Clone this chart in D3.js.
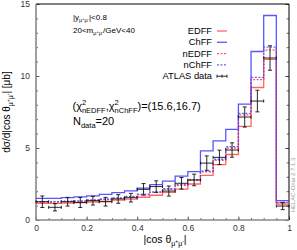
<!DOCTYPE html>
<html>
<head>
<meta charset="utf-8">
<style>
  body { margin: 0; background: #fff; }
  svg { display: block; font-family: "Liberation Sans", Arial, sans-serif; }
</style>
</head>
<body>
<svg width="297" height="250"></svg>
<script src="https://d3js.org/d3.v7.min.js"></script>
<script>
// bin edges in |cos theta|
const binEdges = [0, 0.05, 0.1, 0.15, 0.2, 0.25, 0.3, 0.35, 0.4, 0.45, 0.5,
                  0.55, 0.6, 0.65, 0.7, 0.75, 0.8, 0.85, 0.9, 0.95, 1];

// theory predictions
const edff  = [1.15, 1.15, 1.18, 1.20, 1.25, 1.30, 1.38, 1.45, 1.58, 1.72, 1.92, 2.15, 2.50, 3.10, 3.85, 4.55, 6.50, 9.20, 11.15, 1.10];
const chff  = [1.50, 1.50, 1.55, 1.60, 1.68, 1.78, 1.90, 2.02, 2.22, 2.45, 2.70, 3.05, 3.36, 4.80, 5.50, 6.30, 8.05, 11.70, 14.20, 1.35];
const nedff = [1.25, 1.25, 1.28, 1.30, 1.36, 1.42, 1.50, 1.60, 1.75, 1.92, 2.12, 2.40, 2.75, 3.35, 4.15, 5.00, 7.30, 9.75, 11.80, 1.18];
const nchff = [1.28, 1.28, 1.31, 1.33, 1.39, 1.46, 1.54, 1.64, 1.79, 1.96, 2.17, 2.45, 2.80, 3.40, 4.22, 5.10, 7.40, 9.90, 12.00, 1.22];

// ATLAS data + errors
const dataVal = [1.27, 0.88, 1.27, 1.22, 1.34, 1.27, 1.46, 1.55, 2.13, 2.32, 2.01, 2.55, 2.78, 3.95, 4.35, 4.86, 7.15, 8.26, 11.25, 0.97];
const dataErr = [0.40, 0.25, 0.30, 0.35, 0.30, 0.30, 0.30, 0.30, 0.40, 0.40, 0.35, 0.40, 0.40, 0.50, 0.50, 0.50, 0.70, 0.75, 0.85, 0.25];

const xTicks = [0, 0.2, 0.4, 0.6, 0.8, 1];
const yTicks = [0, 5, 10, 15];

let svg = d3.select("svg");
let mLeft = 36, mRight = 289, mTop = 4, mBottom = 220;

let x = d3.scaleLinear().domain([0, 1]).range([mLeft, mRight]);
let y = d3.scaleLinear().domain([0, 15]).range([mBottom, mTop]);

// axes / ticks
let minorY = d3.range(0, 16, 1);
let minorX = d3.range(0, 1.0001, 0.05);

svg.append("g").attr("transform", `translate(${mLeft},0)`)
    .call(d3.axisLeft(y).tickValues(minorY).tickSize(-2).tickFormat(""))
    .call(g => g.select(".domain").remove());
svg.append("g").attr("transform", `translate(${mLeft},0)`)
    .call(d3.axisLeft(y).tickValues(yTicks).tickSize(-3.5).tickPadding(6).tickFormat(d3.format("d")))
    .call(g => g.select(".domain").remove())
    .call(g => g.selectAll("text").attr("font-size", 8.5).attr("fill", "#333").attr("font-family", "Liberation Sans, Arial, sans-serif"));

svg.append("g").attr("transform", `translate(${mRight},0)`)
    .call(d3.axisRight(y).tickValues(minorY).tickSize(-2.5).tickFormat(""))
    .call(g => g.select(".domain").remove());
svg.append("g").attr("transform", `translate(${mRight},0)`)
    .call(d3.axisRight(y).tickValues(yTicks).tickSize(-4).tickFormat(""))
    .call(g => g.select(".domain").remove());

svg.append("g").attr("transform", `translate(0,${mBottom})`)
    .call(d3.axisBottom(x).tickValues(minorX).tickSize(-2).tickFormat(""))
    .call(g => g.select(".domain").remove());
svg.append("g").attr("transform", `translate(0,${mBottom})`)
    .call(d3.axisBottom(x).tickValues(xTicks).tickSize(-3.5).tickPadding(5).tickFormat(d => d3.format("")(d)))
    .call(g => g.select(".domain").remove())
    .call(g => g.selectAll("text").attr("font-size", 8.5).attr("fill", "#333").attr("font-family", "Liberation Sans, Arial, sans-serif"));

svg.selectAll(".tick line").attr("stroke", "#444").attr("stroke-width", 0.8);

// frame
svg.append("line").attr("x1", mLeft).attr("x2", mRight).attr("y1", mTop).attr("y2", mTop)
    .attr("stroke", "#000").attr("stroke-width", 1);
svg.append("line").attr("x1", mRight).attr("x2", mRight).attr("y1", mTop).attr("y2", mBottom)
    .attr("stroke", "#000").attr("stroke-width", 1);
svg.append("line").attr("x1", mLeft).attr("x2", mLeft).attr("y1", mTop).attr("y2", mBottom + 0.7)
    .attr("stroke", "#888").attr("stroke-width", 1.6);
svg.append("line").attr("x1", mLeft).attr("x2", mRight).attr("y1", mBottom).attr("y2", mBottom)
    .attr("stroke", "#888").attr("stroke-width", 1.6);

// histograms
let step = d3.line().x(d => x(d[0])).y(d => y(d[1])).curve(d3.curveStepAfter);

function histPts(vals) {
    let pts = vals.map((v, i) => [binEdges[i], v]);
    pts.push([binEdges[binEdges.length - 1], vals[vals.length - 1]]);
    return pts;
}

let series = [
    { name: "EDFF",  vals: edff,  color: "#ff4a4a", dash: null },
    { name: "ChFF",  vals: chff,  color: "#3a3aff", dash: null },
    { name: "nEDFF", vals: nedff, color: "#ff3a3a", dash: "2,1.5" },
    { name: "nChFF", vals: nchff, color: "#4a4aff", dash: "2,1.5" }
];

series.forEach(s => {
    svg.append("path")
        .attr("d", step(histPts(s.vals)))
        .attr("fill", "none")
        .attr("stroke", s.color)
        .attr("stroke-opacity", 0.85)
        .attr("stroke-width", 1.3)
        .attr("stroke-dasharray", s.dash);
});

// data points
let dg = svg.append("g").attr("stroke", "#111").attr("stroke-width", 0.9);
dataVal.forEach((v, i) => {
    let x0 = x(binEdges[i]), x1 = x(binEdges[i + 1]), xc = (x0 + x1) / 2;
    let yc = y(v), ylo = y(v - dataErr[i]), yhi = y(v + dataErr[i]);
    dg.append("line").attr("x1", x0).attr("x2", x1).attr("y1", yc).attr("y2", yc);
    dg.append("line").attr("x1", x0).attr("x2", x0).attr("y1", yc - 1.5).attr("y2", yc + 1.5);
    dg.append("line").attr("x1", x1).attr("x2", x1).attr("y1", yc - 1.5).attr("y2", yc + 1.5);
    dg.append("line").attr("x1", xc).attr("x2", xc).attr("y1", ylo).attr("y2", yhi);
    dg.append("line").attr("x1", xc - 2).attr("x2", xc + 2).attr("y1", ylo).attr("y2", ylo);
    dg.append("line").attr("x1", xc - 2).attr("x2", xc + 2).attr("y1", yhi).attr("y2", yhi);
});

// rich text helper: parts {t, s, b (baseline shift up), hold (stack with next)}
function rich(g, parts, anchor) {
    let cx = 0, pend = 0;
    parts.forEach(p => {
        let t = g.append("text").attr("x", cx).attr("y", -(p.b || 0))
            .attr("font-size", p.s).attr("fill", "#000").text(p.t);
        let w = t.node().getComputedTextLength();
        if (p.hold) { pend = w; }
        else { cx += Math.max(w, pend); pend = 0; }
    });
    if (anchor === "middle") {
        g.selectAll("text").attr("x", function () { return +this.getAttribute("x") - cx / 2; });
    } else if (anchor === "end") {
        g.selectAll("text").attr("x", function () { return +this.getAttribute("x") - cx; });
    }
    return cx;
}

function mumu(s, b) {
    return [
        { t: "μ", s: s, b: b },
        { t: "+", s: s * 0.7, b: b + s * 0.45 },
        { t: "μ", s: s, b: b },
        { t: "-", s: s * 0.7, b: b + s * 0.45 }
    ];
}

// cut labels
rich(svg.append("g").attr("transform", "translate(73,19.5)"),
    [{ t: "|y", s: 8 }].concat(mumu(5.5, -2.5)).concat([{ t: "|<0.8", s: 8 }]));
rich(svg.append("g").attr("transform", "translate(73,32.5)"),
    [{ t: "20<m", s: 8 }].concat(mumu(5.5, -2.5)).concat([{ t: "/GeV<40", s: 8 }]));

// chi2 label
rich(svg.append("g").attr("transform", "translate(72.5,110)"), [
    { t: "(χ", s: 11 },
    { t: "2", s: 7.5, b: 5, hold: true },
    { t: "nEDFF", s: 7.5, b: -3 },
    { t: ",χ", s: 11 },
    { t: "2", s: 7.5, b: 5, hold: true },
    { t: "nChFF", s: 7.5, b: -3 },
    { t: ")=(15.6,16.7)", s: 11 }
]);
rich(svg.append("g").attr("transform", "translate(73,125)"), [
    { t: "N", s: 11 },
    { t: "data", s: 7.5, b: -3 },
    { t: "=20", s: 11 }
]);

// legend
let legY = [34, 45.3, 56.6, 67.9, 79.2];
let lg = svg.append("g");
series.forEach((s, i) => {
    lg.append("text").attr("x", 212).attr("y", legY[i]).attr("text-anchor", "end")
        .attr("font-size", 9.3).text(s.name);
    lg.append("line").attr("x1", 217).attr("x2", 227).attr("y1", legY[i] - 3).attr("y2", legY[i] - 3)
        .attr("stroke", s.color).attr("stroke-opacity", 0.85).attr("stroke-width", 1.3)
        .attr("stroke-dasharray", s.dash);
});
lg.append("text").attr("x", 212).attr("y", legY[4]).attr("text-anchor", "end")
    .attr("font-size", 9.3).text("ATLAS data");
let ly = legY[4] - 3;
let lk = lg.append("g").attr("stroke", "#111").attr("stroke-width", 0.9);
lk.append("line").attr("x1", 217).attr("x2", 227).attr("y1", ly).attr("y2", ly);
lk.append("line").attr("x1", 217).attr("x2", 217).attr("y1", ly - 1.5).attr("y2", ly + 1.5);
lk.append("line").attr("x1", 227).attr("x2", 227).attr("y1", ly - 1.5).attr("y2", ly + 1.5);
lk.append("line").attr("x1", 222).attr("x2", 222).attr("y1", ly - 1.5).attr("y2", ly + 1.5);

// axis titles
rich(svg.append("g").attr("transform", "translate(165,243)"),
    [{ t: "|cos θ", s: 10.5 }].concat(mumu(7, -2.8)).concat([{ t: "|", s: 10.5 }]), "middle");

rich(svg.append("g").attr("transform", "translate(10,112) rotate(-90)"),
    [{ t: "dσ/d|cos θ", s: 10 }].concat(mumu(7, -2.8)).concat([{ t: "| [μb]", s: 10 }]), "middle");

// program tag
svg.append("text").attr("transform", "translate(295,185) rotate(-90)")
    .attr("text-anchor", "middle").attr("font-size", 6).attr("fill", "#999")
    .text("HELAC-Onia 2.7.1.3");
</script>
</body>
</html>
